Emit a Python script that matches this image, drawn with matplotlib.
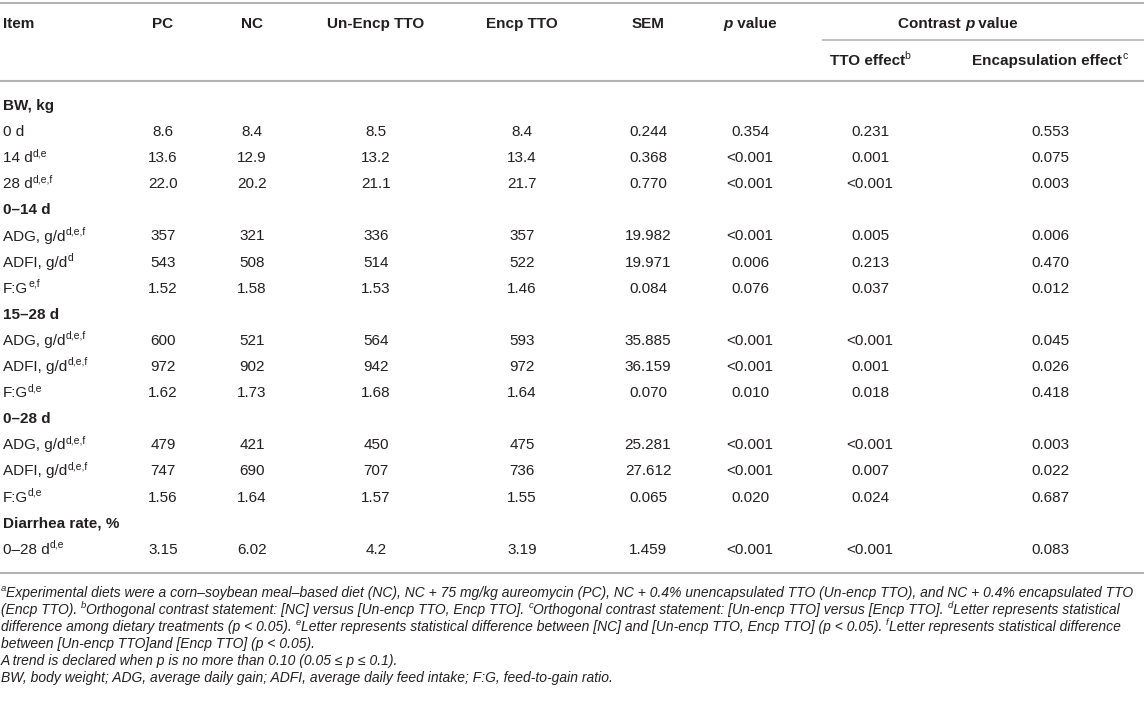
import matplotlib
matplotlib.use("Agg")
import matplotlib.pyplot as plt

# --- table data -------------------------------------------------------------
items = ["BW, kg", "0 d", "14 d", "28 d",
         "0–14 d", "ADG, g/d", "ADFI, g/d", "F:G",
         "15–28 d", "ADG, g/d", "ADFI, g/d", "F:G",
         "0–28 d", "ADG, g/d", "ADFI, g/d", "F:G",
         "Diarrhea rate, %", "0–28 d"]
item_sup = [None, None, "d,e", "d,e,f",
            None, "d,e,f", "d", "e,f",
            None, "d,e,f", "d,e,f", "d,e",
            None, "d,e,f", "d,e,f", "d,e",
            None, "d,e"]
section = [True, False, False, False,
           True, False, False, False,
           True, False, False, False,
           True, False, False, False,
           True, False]

pc = [None, "8.6", "13.6", "22.0", None, "357", "543", "1.52", None, "600", "972", "1.62",
      None, "479", "747", "1.56", None, "3.15"]
nc = [None, "8.4", "12.9", "20.2", None, "321", "508", "1.58", None, "521", "902", "1.73",
      None, "421", "690", "1.64", None, "6.02"]
unencp_tto = [None, "8.5", "13.2", "21.1", None, "336", "514", "1.53", None, "564", "942", "1.68",
              None, "450", "707", "1.57", None, "4.2"]
encp_tto = [None, "8.4", "13.4", "21.7", None, "357", "522", "1.46", None, "593", "972", "1.64",
            None, "475", "736", "1.55", None, "3.19"]
sem = [None, "0.244", "0.368", "0.770", None, "19.982", "19.971", "0.084", None, "35.885", "36.159",
       "0.070", None, "25.281", "27.612", "0.065", None, "1.459"]
p_value = [None, "0.354", "<0.001", "<0.001", None, "<0.001", "0.006", "0.076", None, "<0.001",
           "<0.001", "0.010", None, "<0.001", "<0.001", "0.020", None, "<0.001"]
tto_effect = [None, "0.231", "0.001", "<0.001", None, "0.005", "0.213", "0.037", None, "<0.001",
              "0.001", "0.018", None, "<0.001", "0.007", "0.024", None, "<0.001"]
encap_effect = [None, "0.553", "0.075", "0.003", None, "0.006", "0.470", "0.012", None, "0.045",
                "0.026", "0.418", None, "0.003", "0.022", "0.687", None, "0.083"]

columns = [pc, nc, unencp_tto, encp_tto, sem, p_value, tto_effect, encap_effect]

footnotes = [
    [("a", "supi"), ("Experimental diets were a corn–soybean meal–based diet (NC), NC + 75 mg/kg aureomycin "
                     "(PC), NC + 0.4% unencapsulated TTO (Un-encp TTO), and NC + 0.4% encapsulated TTO", "i")],
    [("(Encp TTO). ", "i"), ("b", "supi"),
     ("Orthogonal contrast statement: [NC] versus [Un-encp TTO, Encp TTO]. ", "i"), ("c", "supi"),
     ("Orthogonal contrast statement: [Un-encp TTO] versus [Encp TTO]. ", "i"), ("d", "supi"),
     ("Letter represents statistical", "i")],
    [("difference among dietary treatments (p < 0.05). ", "i"), ("e", "supi"),
     ("Letter represents statistical difference between [NC] and [Un-encp TTO, Encp TTO] (p < 0.05). ", "i"),
     ("f", "supi"), ("Letter represents statistical difference", "i")],
    [("between [Un-encp TTO]and [Encp TTO] (p < 0.05).", "i")],
    [("A trend is declared when p is no more than 0.10 (0.05 ≤ p ≤ 0.1).", "i")],
    [("BW, body weight; ADG, average daily gain; ADFI, average daily feed intake; F:G, feed-to-gain ratio.", "i")],
]

# --- layout (pixels, origin top-left) ---------------------------------------
W, H = 1144, 702
TXT = "#231f20"
RULE = "#b3b3b3"
FS = 11.0
col_x = [163, 252, 376, 522, 648, 750, 870, 1050]
row0, row_step = 110, 26.1

fig = plt.figure(figsize=(W / 100, H / 100), dpi=100)
ax = fig.add_axes([0, 0, 1, 1])
ax.set_xlim(0, W)
ax.set_ylim(H, 0)
ax.axis("off")
renderer = fig.canvas.get_renderer()

FAMILY = ["Liberation Sans", "DejaVu Sans"]


def style(kind, fs):
    base = dict(family=FAMILY, color=TXT, fontsize=fs)
    if kind == "b":
        base["fontweight"] = "bold"
    elif kind == "i":
        base["fontstyle"] = "italic"
    elif kind == "bi":
        base.update(fontweight="bold", fontstyle="italic")
    elif kind in ("sup", "supi", "supb"):
        base["fontsize"] = fs * 0.68
        if kind == "supi":
            base["fontstyle"] = "italic"
        if kind == "supb":
            base["fontweight"] = "bold"
    return base


def width(s, props):
    t = ax.text(0, 0, s, **props)
    w = t.get_window_extent(renderer).width
    t.remove()
    return w


def advance(s, props):
    # trailing spaces are not in the ink box, so measure them against a marker
    if s.endswith(" "):
        return width(s + "|", props) - width("|", props)
    return width(s, props)


def draw_runs(x, y, runs, fs=FS, ha="left"):
    advs = [advance(s, style(k, fs)) for s, k in runs]
    if ha == "center":
        x -= sum(advs) / 2
    for (s, k), a in zip(runs, advs):
        dy = -fs * 0.55 if k.startswith("sup") else 0
        ax.text(x, y + dy, s, va="baseline", ha="left", **style(k, fs))
        x += a
    return sum(advs)


def hline(y, x0=0, x1=W, lw=1.5):
    ax.plot([x0, x1], [y, y], color=RULE, lw=lw, solid_capstyle="butt")


# rules
hline(3)
hline(40, 822, W, lw=1.2)
hline(81)
hline(573)

# header
hb = 28
draw_runs(3, hb, [("Item", "b")])
for x, lab in zip(col_x[:5], ["PC", "NC", "Un-Encp TTO", "Encp TTO", "SEM"]):
    draw_runs(x, hb, [(lab, "b")], ha="center")
draw_runs(col_x[5], hb, [("p", "bi"), (" value", "b")], ha="center")
draw_runs(958, hb, [("Contrast ", "b"), ("p", "bi"), (" value", "b")], ha="center")
draw_runs(col_x[6], 65, [("TTO effect", "b"), ("b", "sup")], ha="center")
draw_runs(col_x[7], 65, [("Encapsulation effect", "b"), ("c", "sup")], ha="center")

# body
for i, name in enumerate(items):
    yb = row0 + i * row_step
    if section[i]:
        draw_runs(3, yb, [(name, "b")])
        continue
    runs = [(name, "n")]
    if item_sup[i]:
        runs.append((item_sup[i], "sup"))
    draw_runs(3, yb, runs)
    for x, col in zip(col_x, columns):
        draw_runs(x, yb, [(col[i], "n")], ha="center")

# footnotes: size chosen so the first line spans the table width
fs_note = 10.0
w0 = sum(advance(s, style(k, fs_note)) for s, k in footnotes[0])
fs_note = fs_note * 1136 / w0
for j, line in enumerate(footnotes):
    draw_runs(1, 597 + j * 17, line, fs=fs_note)

fig.savefig("out.png", dpi=100)
